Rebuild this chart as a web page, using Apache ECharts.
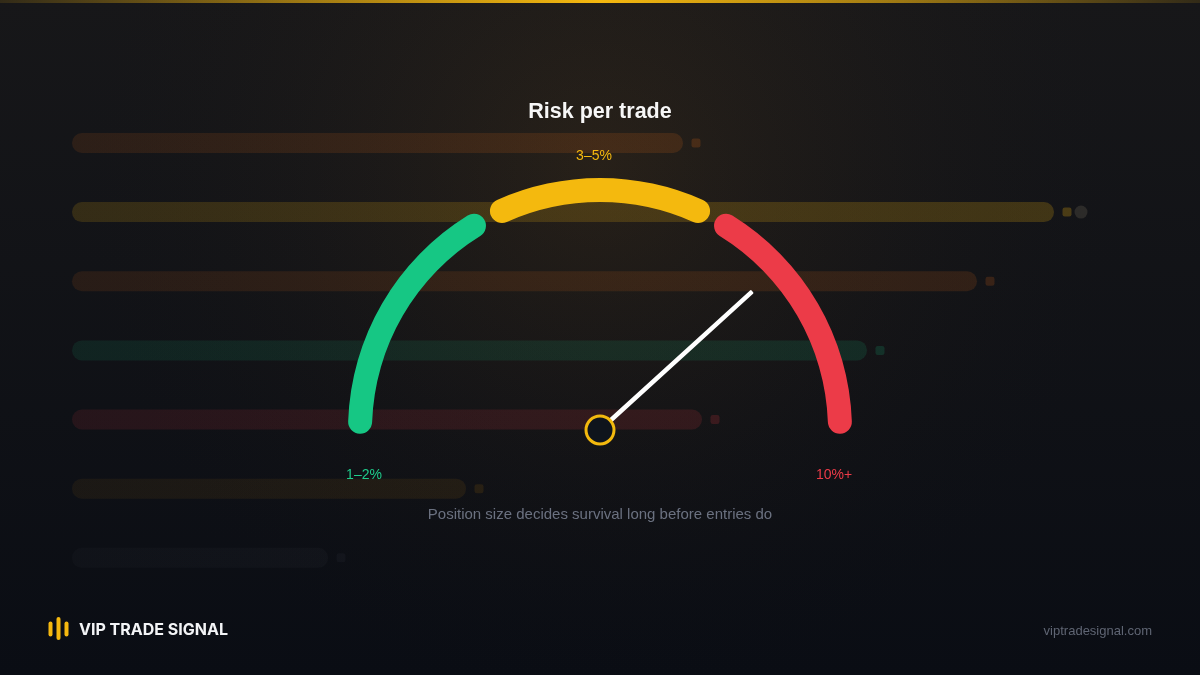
<!DOCTYPE html>
<html>
<head>
<meta charset="utf-8">
<title>Risk per trade</title>
<script src="https://cdn.jsdelivr.net/npm/echarts@6/dist/echarts.min.js"></script>
<style>
  html, body { margin: 0; padding: 0; background: #0c0f15; }
  #chart { width: 1200px; height: 675px; }
</style>
</head>
<body>
<div id="chart"></div>
<script>
// Background bar data (faded decoration behind the gauge)
const bgBarValues = [61.1, 98.2, 90.5, 79.5, 63.0, 39.4, 25.6];
const bgBarColors = ['#F97316', '#F5B80F', '#F97316', '#16C784', '#EA3943', '#F59E0B', '#9CA3AF'];
const bgBarAlpha = [0.14, 0.2, 0.13, 0.13, 0.14, 0.08, 0.035];

// Gauge segments, on a 0-100 scale from left (180deg) to right (0deg)
const segLabels = ['1–2%', '3–5%', '10%+'];
const segStart = [1.1, 36.6, 67.6];
const segEnd = [32.4, 63.4, 98.9];
const segColors = ['#16C784', '#F4B90E', '#EC3B48'];

// Needle position on the same scale
const needleValue = 76.5;

const titleText = 'Risk per trade';
const subtitleText = 'Position size decides survival long before entries do';
const brandText = 'VIP TRADE SIGNAL';
const urlText = 'viptradesignal.com';

const chart = echarts.init(document.getElementById('chart'));

const hexAlpha = (hex, a) => {
  const n = parseInt(hex.slice(1), 16);
  return `rgba(${(n >> 16) & 255},${(n >> 8) & 255},${n & 255},${a})`;
};

const CENTER = [600, 430];
const RADIUS = 252;
const toAngle = v => 180 - (v / 100) * 180;

// One gauge series per coloured segment
const segmentSeries = segLabels.map((name, i) => ({
  type: 'gauge',
  name,
  center: CENTER,
  radius: RADIUS,
  startAngle: toAngle(segStart[i]),
  endAngle: toAngle(segEnd[i]),
  min: 0,
  max: 1,
  axisLine: {
    roundCap: true,
    lineStyle: { width: 24, color: [[1, segColors[i]]] },
  },
  splitLine: { show: false },
  axisTick: { show: false },
  axisLabel: { show: false },
  pointer: { show: false },
  anchor: { show: false },
  title: { show: false },
  detail: { show: false },
  data: [],
  z: 3,
}));

const labelPos = [[364, 475, '#1FCB8A'], [594, 156, '#F4B90E'], [834, 475, '#EC3B48']];

const textStyle = (text, x, y, font, fill, align) => ({
  text, x, y, font, fill,
  align, verticalAlign: 'middle',
  textAlign: align, textVerticalAlign: 'middle',
});

chart.setOption({
  backgroundColor: '#0c0f15',
  animation: false,
  graphic: [
    {
      type: 'rect', z: -10, silent: true,
      shape: { x: 0, y: 0, width: 1200, height: 675 },
      style: {
        fill: new echarts.graphic.LinearGradient(0, 0, 0, 1, [
          { offset: 0, color: '#171719' },
          { offset: 1, color: '#0a0d14' },
        ]),
      },
    },
    {
      type: 'rect', z: -9, silent: true,
      shape: { x: 0, y: 0, width: 1200, height: 675 },
      style: {
        fill: new echarts.graphic.RadialGradient(0.5, 0.25, 0.85, [
          { offset: 0, color: 'rgba(160,105,30,0.14)' },
          { offset: 0.55, color: 'rgba(120,80,30,0.04)' },
          { offset: 1, color: 'rgba(0,0,0,0)' },
        ]),
      },
    },
    {
      type: 'rect', z: 10, silent: true,
      shape: { x: 0, y: 0, width: 1200, height: 3 },
      style: {
        fill: new echarts.graphic.LinearGradient(0, 0, 1, 0, [
          { offset: 0, color: 'rgba(245,184,15,0.12)' },
          { offset: 0.25, color: 'rgba(245,184,15,0.6)' },
          { offset: 0.5, color: '#F5B80F' },
          { offset: 0.75, color: 'rgba(245,184,15,0.6)' },
          { offset: 1, color: 'rgba(245,184,15,0.12)' },
        ]),
      },
    },
    {
      type: 'text', z: 10,
      style: textStyle(titleText, 600, 112, 'bold 21.5px "Liberation Sans", Arial, sans-serif', '#F7F7F7', 'center'),
    },
    {
      type: 'text', z: 10,
      style: textStyle(subtitleText, 600, 515, '15px "Liberation Sans", Arial, sans-serif', '#6B7180', 'center'),
    },
    ...segLabels.map((t, i) => ({
      type: 'text', z: 10,
      style: textStyle(t, labelPos[i][0], labelPos[i][1], '14px "Liberation Sans", Arial, sans-serif', labelPos[i][2], 'center'),
    })),
    // logo bars
    { type: 'rect', z: 10, shape: { x: 48.5, y: 621.5, width: 4, height: 15, r: 2 }, style: { fill: '#F5B80F' } },
    { type: 'rect', z: 10, shape: { x: 56.5, y: 617, width: 4, height: 23, r: 2 }, style: { fill: '#F5B80F' } },
    { type: 'rect', z: 10, shape: { x: 64.5, y: 621.5, width: 4, height: 15, r: 2 }, style: { fill: '#F5B80F' } },
    {
      type: 'text', z: 10,
      style: textStyle(brandText, 79, 630, 'bold 16px Inter, "Liberation Sans", sans-serif', '#F3F4F6', 'left'),
    },
    {
      type: 'text', z: 10,
      style: textStyle(urlText, 1152, 631, '13px "Liberation Sans", Arial, sans-serif', '#5F6573', 'right'),
    },
  ],
  grid: { left: 72, top: 108.4, width: 1000, height: 484 },
  xAxis: { type: 'value', min: 0, max: 100, show: false },
  yAxis: {
    type: 'category', inverse: true, show: false,
    data: bgBarValues.map((_, i) => 'r' + (i + 1)),
  },
  series: [
    {
      type: 'bar',
      barWidth: 20,
      silent: true,
      z: 1,
      data: bgBarValues.map((v, i) => ({
        value: v,
        itemStyle: {
          borderRadius: 10,
          color: new echarts.graphic.LinearGradient(0, 0, 1, 0, [
            { offset: 0, color: hexAlpha(bgBarColors[i], bgBarAlpha[i] * 0.75) },
            { offset: 1, color: hexAlpha(bgBarColors[i], bgBarAlpha[i]) },
          ]),
        },
      })),
    },
    {
      type: 'scatter',
      silent: true,
      z: 1,
      symbol: 'roundRect',
      symbolSize: 9,
      symbolOffset: [13, 0],
      data: bgBarValues.map((v, i) => ({
        value: [v, i],
        itemStyle: { color: hexAlpha(bgBarColors[i], Math.min(0.3, bgBarAlpha[i] * 1.6)) },
      })),
    },
    {
      type: 'scatter',
      silent: true,
      z: 1,
      symbol: 'circle',
      symbolSize: 13,
      symbolOffset: [27, 0],
      data: [{ value: [bgBarValues[1], 1], itemStyle: { color: hexAlpha('#D6C9A0', 0.16) } }],
    },
    ...segmentSeries,
    {
      type: 'gauge',
      center: CENTER,
      radius: RADIUS,
      startAngle: 180,
      endAngle: 0,
      min: 0,
      max: 100,
      z: 5,
      axisLine: { show: false },
      splitLine: { show: false },
      axisTick: { show: false },
      axisLabel: { show: false },
      pointer: {
        icon: 'roundRect',
        length: 206,
        width: 4.5,
        itemStyle: { color: '#FFFFFF' },
      },
      anchor: {
        show: true,
        showAbove: true,
        size: 28,
        itemStyle: { color: '#0F141C', borderColor: '#F4B90E', borderWidth: 3 },
      },
      title: { show: false },
      detail: { show: false },
      data: [{ value: needleValue }],
    },
  ],
});

window.addEventListener('resize', () => chart.resize());
</script>
</body>
</html>
